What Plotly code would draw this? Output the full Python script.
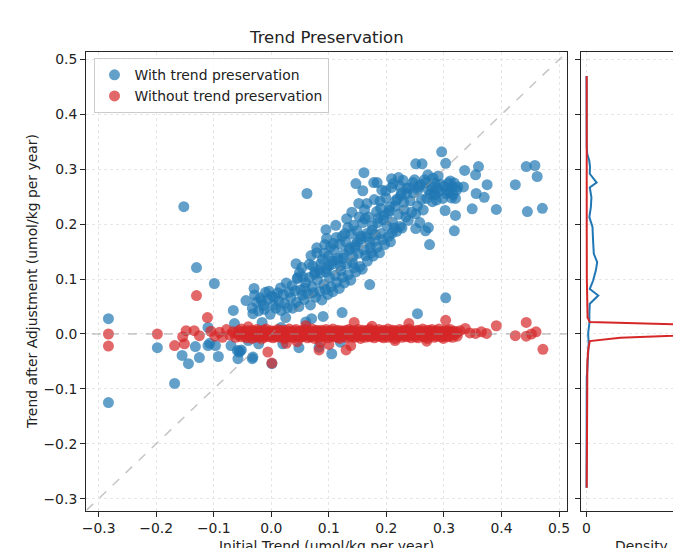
import plotly.graph_objects as go

# ---------------- data ----------------
blue_points = [
    # scattered points left of / below the main cloud
    (-0.283, 0.028), (-0.283, -0.125), (-0.198, -0.025), (-0.168, -0.090), (-0.152, 0.232),
    (-0.130, 0.121), (-0.099, 0.092), (-0.155, -0.039), (-0.144, -0.054), (-0.132, -0.023),
    (-0.125, -0.043), (-0.110, -0.021), (-0.110, 0.012), (-0.097, -0.021), (-0.092, -0.041),
    (-0.107, -0.017), (-0.070, -0.021), (-0.064, 0.019), (-0.059, -0.030), (-0.056, -0.033),
    (-0.052, -0.029), (-0.054, -0.031), (-0.058, -0.045), (-0.044, 0.061), (-0.066, 0.043),
    (-0.033, -0.045), (-0.032, -0.042), (-0.032, 0.037), (-0.030, 0.083), (-0.016, 0.021),
    (0.001, -0.054), (0.017, 0.012), (-0.040, -0.012), (-0.022, -0.018), (-0.012, 0.045),
    # main cloud
    (-0.033, 0.047), (-0.026, 0.058), (-0.029, 0.071),
    (-0.022, 0.042), (-0.017, 0.061), (-0.019, 0.066),
    (-0.013, 0.052), (-0.006, 0.063), (-0.010, 0.076),
    (-0.002, 0.036), (0.004, 0.053), (0.001, 0.069), (-0.004, 0.078),
    (0.008, 0.047), (0.013, 0.060), (0.011, 0.075), (0.006, 0.067),
    (0.017, 0.043), (0.023, 0.056), (0.021, 0.072), (0.016, 0.084),
    (0.028, 0.048), (0.034, 0.066), (0.031, 0.076), (0.026, 0.093),
    (0.037, 0.047), (0.044, 0.058), (0.041, 0.079), (0.036, 0.088), (0.046, 0.103), (0.043, 0.128),
    (0.048, 0.050), (0.054, 0.071), (0.051, 0.080), (0.045, 0.101), (0.053, 0.121), (0.049, 0.112),
    (0.057, 0.063), (0.064, 0.073), (0.060, 0.093), (0.055, 0.104), (0.066, 0.127), (0.062, 0.256), (0.058, 0.084),
    (0.068, 0.053), (0.073, 0.075), (0.071, 0.086), (0.066, 0.103), (0.076, 0.113), (0.069, 0.143), (0.072, 0.124),
    (0.077, 0.067), (0.084, 0.078), (0.080, 0.098), (0.075, 0.109), (0.086, 0.128), (0.079, 0.148), (0.079, 0.157), (0.083, 0.117),
    (0.088, 0.062), (0.094, 0.081), (0.091, 0.090), (0.085, 0.111), (0.096, 0.119), (0.089, 0.136), (0.093, 0.163), (0.095, 0.190), (0.092, 0.147),
    (0.098, 0.072), (0.104, 0.086), (0.101, 0.103), (0.095, 0.113), (0.106, 0.133), (0.099, 0.142), (0.103, 0.159), (0.096, 0.174), (0.100, 0.124),
    (0.107, 0.077), (0.114, 0.094), (0.111, 0.107), (0.105, 0.127), (0.116, 0.138), (0.109, 0.153), (0.113, 0.176), (0.112, 0.198), (0.108, 0.165),
    (0.118, 0.083), (0.124, 0.103), (0.121, 0.116), (0.115, 0.134), (0.126, 0.146), (0.119, 0.164), (0.123, 0.178), (0.123, 0.039), (0.120, 0.124),
    (0.127, 0.093), (0.134, 0.108), (0.131, 0.128), (0.125, 0.138), (0.136, 0.157), (0.129, 0.168), (0.133, 0.194), (0.131, 0.210), (0.128, 0.183),
    (0.138, 0.098), (0.144, 0.121), (0.141, 0.130), (0.135, 0.153), (0.146, 0.163), (0.139, 0.182), (0.143, 0.198), (0.140, 0.222), (0.142, 0.141),
    (0.147, 0.113), (0.154, 0.123), (0.151, 0.147), (0.145, 0.158), (0.156, 0.178), (0.149, 0.188), (0.153, 0.213), (0.152, 0.238), (0.147, 0.274), (0.150, 0.168),
    (0.158, 0.118), (0.164, 0.143), (0.161, 0.153), (0.155, 0.172), (0.166, 0.183), (0.159, 0.203), (0.163, 0.210), (0.159, 0.261), (0.161, 0.294), (0.162, 0.227),
    (0.171, 0.090), (0.167, 0.133), (0.174, 0.148), (0.171, 0.167), (0.165, 0.177), (0.176, 0.197), (0.169, 0.213), (0.166, 0.238), (0.178, 0.276), (0.172, 0.158),
    (0.177, 0.142), (0.184, 0.158), (0.181, 0.181), (0.175, 0.189), (0.186, 0.211), (0.183, 0.223), (0.184, 0.276), (0.180, 0.170), (0.179, 0.245),
    (0.188, 0.148), (0.194, 0.172), (0.191, 0.183), (0.185, 0.203), (0.196, 0.216), (0.189, 0.242), (0.192, 0.262), (0.190, 0.229),
    (0.197, 0.163), (0.204, 0.178), (0.201, 0.197), (0.195, 0.208), (0.206, 0.232), (0.199, 0.248), (0.199, 0.261), (0.209, 0.283), (0.203, 0.220),
    (0.207, 0.168), (0.214, 0.193), (0.211, 0.203), (0.205, 0.225), (0.216, 0.243), (0.209, 0.267), (0.212, 0.274), (0.210, 0.184),
    (0.218, 0.187), (0.224, 0.196), (0.221, 0.218), (0.215, 0.233), (0.226, 0.257), (0.221, 0.285), (0.219, 0.246), (0.223, 0.270),
    (0.227, 0.193), (0.234, 0.213), (0.231, 0.226), (0.225, 0.252), (0.236, 0.266), (0.229, 0.280), (0.230, 0.240),
    (0.238, 0.207), (0.244, 0.222), (0.241, 0.243), (0.235, 0.256), (0.246, 0.276), (0.240, 0.266),
    (0.251, 0.192), (0.251, 0.219), (0.254, 0.233), (0.247, 0.257), (0.256, 0.268), (0.251, 0.310), (0.254, 0.037), (0.249, 0.281),
    (0.258, 0.203), (0.264, 0.226), (0.261, 0.245), (0.255, 0.263), (0.266, 0.281), (0.262, 0.310), (0.259, 0.272),
    (0.275, 0.163), (0.268, 0.188), (0.273, 0.194), (0.270, 0.247), (0.273, 0.263), (0.268, 0.276), (0.272, 0.290), (0.276, 0.255),
    (0.280, 0.241), (0.283, 0.257), (0.278, 0.268), (0.281, 0.284), (0.284, 0.275),
    (0.287, 0.244), (0.292, 0.261), (0.285, 0.254), (0.290, 0.288), (0.294, 0.273), (0.288, 0.266),
    (0.302, 0.225), (0.298, 0.247), (0.304, 0.256), (0.300, 0.269), (0.308, 0.275), (0.303, 0.311), (0.303, 0.066), (0.306, 0.262),
    (0.313, 0.248), (0.310, 0.259), (0.315, 0.268), (0.311, 0.279), (0.316, 0.254),
    (0.318, 0.188), (0.320, 0.216), (0.320, 0.247), (0.322, 0.262), (0.318, 0.275), (0.324, 0.268),
    # sparse points to the right
    (0.296, 0.332), (0.336, 0.298), (0.334, 0.268), (0.349, 0.228), (0.355, 0.290),
    (0.356, 0.256), (0.360, 0.305), (0.370, 0.249), (0.375, 0.272), (0.391, 0.227),
    (0.424, 0.272), (0.443, 0.305), (0.445, 0.223), (0.458, 0.307), (0.462, 0.287),
    (0.471, 0.229),
    # points close to zero (partly under the red band)
    (0.025, 0.030), (0.070, 0.028), (0.090, 0.032), (0.060, 0.022), (0.048, -0.025),
    (0.083, -0.024), (0.105, -0.036), (0.020, -0.018), (0.120, -0.015),
]

red_outliers = [
    (-0.283, 0.000), (-0.283, -0.022), (-0.198, 0.000), (-0.168, -0.021), (-0.154, -0.005),
    (-0.151, -0.018), (-0.148, 0.006), (-0.134, 0.006), (-0.130, 0.070), (-0.125, -0.003),
    (-0.111, 0.030), (-0.105, 0.005), (-0.098, -0.004), (-0.090, 0.003), (-0.085, -0.006),
    (-0.078, 0.008), (-0.072, -0.002), (-0.067, 0.004), (-0.006, -0.033), (0.001, -0.053),
    (0.083, -0.029), (0.130, -0.029), (0.026, -0.017), (0.138, -0.021), (0.100, -0.019),
    (0.144, 0.021), (0.239, 0.019), (0.303, 0.025), (0.060, 0.015), (0.045, -0.014),
    (0.175, 0.014), (0.270, -0.013), (0.215, -0.012), (0.085, -0.015), (-0.040, 0.013),
    (0.328, 0.006), (0.337, 0.010), (0.345, 0.002), (0.355, 0.001), (0.365, 0.004),
    (0.374, 0.001), (0.391, 0.015), (0.424, -0.003), (0.443, 0.021), (0.443, -0.004),
    (0.452, 0.000), (0.460, 0.004), (0.472, -0.028),
]

# dense red band: x position and the y values found at it
red_band = [
    (-0.062, (0.002, -0.006)), (-0.057, (-0.002, 0.006)), (-0.052, (0.004, -0.005, 0.009)),
    (-0.047, (-0.003, 0.003)), (-0.043, (0.006, -0.007, 0.000)), (-0.038, (-0.004, 0.004)),
    (-0.034, (0.002, -0.008, 0.007)), (-0.029, (-0.001, 0.005, -0.006)), (-0.025, (0.003, -0.004, 0.008)),
    (-0.021, (-0.005, 0.001, 0.006)), (-0.017, (0.004, -0.003, -0.009)), (-0.013, (0.000, 0.007, -0.006)),
    (-0.009, (-0.002, 0.004, 0.009)), (-0.005, (0.003, -0.005, 0.001)), (-0.001, (-0.004, 0.006, 0.000)),
    (0.003, (0.002, -0.007, 0.005)), (0.007, (-0.001, 0.004, -0.005)), (0.011, (0.005, -0.003, 0.008)),
    (0.015, (-0.006, 0.001, 0.004)), (0.019, (0.003, -0.004, 0.007)), (0.023, (-0.002, 0.005, -0.008)),
    (0.027, (0.001, -0.006, 0.006)), (0.031, (-0.003, 0.003, 0.009)), (0.035, (0.004, -0.005, 0.000)),
    (0.039, (-0.001, 0.006, -0.007)), (0.043, (0.002, -0.003, 0.008)), (0.047, (-0.005, 0.004, 0.001)),
    (0.051, (0.003, -0.006, 0.006)), (0.055, (0.000, 0.005, -0.004)), (0.059, (-0.003, 0.002, 0.008)),
    (0.063, (0.004, -0.007, 0.000)), (0.067, (-0.002, 0.006, -0.005)), (0.071, (0.001, -0.004, 0.009)),
    (0.075, (0.005, -0.002, -0.008)), (0.079, (-0.004, 0.003, 0.007)), (0.083, (0.002, -0.006, 0.005)),
    (0.087, (-0.001, 0.007, -0.003)), (0.091, (0.004, -0.005, 0.000)), (0.095, (-0.003, 0.002, 0.008)),
    (0.099, (0.001, -0.007, 0.005)), (0.103, (-0.002, 0.006, -0.004)), (0.107, (0.003, -0.003, 0.009)),
    (0.111, (-0.005, 0.004, 0.000)), (0.115, (0.002, -0.006, 0.007)), (0.119, (0.000, 0.005, -0.008)),
    (0.123, (-0.003, 0.003, 0.006)), (0.127, (0.004, -0.004, 0.001)), (0.131, (-0.001, 0.007, -0.006)),
    (0.135, (0.002, -0.002, 0.008)), (0.139, (-0.004, 0.005, 0.000)), (0.143, (0.003, -0.006, 0.006)),
    (0.147, (0.000, 0.004, -0.005)), (0.151, (-0.002, 0.008, 0.002)), (0.155, (0.004, -0.004, -0.008)),
    (0.159, (-0.003, 0.002, 0.007)), (0.163, (0.001, -0.006, 0.005)), (0.167, (-0.001, 0.006, -0.003)),
    (0.171, (0.003, -0.005, 0.009)), (0.175, (-0.004, 0.003, 0.000)), (0.179, (0.002, -0.007, 0.006)),
    (0.183, (0.000, 0.005, -0.004)), (0.187, (-0.003, 0.002, 0.008)), (0.191, (0.004, -0.005, 0.001)),
    (0.195, (-0.002, 0.007, -0.007)), (0.199, (0.001, -0.003, 0.005)), (0.203, (0.003, -0.006, 0.009)),
    (0.207, (-0.004, 0.004, 0.000)), (0.211, (0.002, -0.002, 0.007)), (0.215, (-0.001, 0.006, -0.008)),
    (0.219, (0.004, -0.004, 0.002)), (0.223, (-0.003, 0.003, 0.008)), (0.227, (0.000, -0.006, 0.005)),
    (0.231, (0.003, 0.007, -0.003)), (0.235, (-0.005, 0.001, 0.006)), (0.239, (0.002, -0.004, 0.009)),
    (0.243, (-0.001, 0.005, -0.007)), (0.247, (0.004, -0.003, 0.000)), (0.251, (-0.002, 0.006, -0.005)),
    (0.255, (0.001, -0.007, 0.007)), (0.259, (0.003, -0.002, 0.004)), (0.263, (-0.004, 0.005, 0.009)),
    (0.267, (0.002, -0.005, 0.000)), (0.271, (-0.001, 0.007, -0.008)), (0.275, (0.004, -0.003, 0.006)),
    (0.279, (-0.003, 0.002, 0.008)), (0.283, (0.001, -0.006, 0.005)), (0.287, (0.003, 0.006, -0.004)),
    (0.291, (-0.002, 0.001, 0.009)), (0.295, (0.004, -0.005, 0.002)), (0.299, (-0.004, 0.005, -0.008)),
    (0.303, (0.002, -0.002, 0.007)), (0.307, (0.000, 0.006, -0.005)), (0.311, (-0.003, 0.003, 0.008)),
    (0.315, (0.002, -0.006, 0.004)), (0.319, (-0.001, 0.005)), (0.323, (0.003, -0.004)),
]

blue_x = [p[0] for p in blue_points]
blue_y = [p[1] for p in blue_points]
red_x = [p[0] for p in red_outliers] + [x for x, ys in red_band for _ in ys]
red_y = [p[1] for p in red_outliers] + [y for _, ys in red_band for y in ys]

# marginal densities (y position, density value)
blue_dens_y = [-0.28, -0.10, -0.079, -0.066, -0.042, -0.017, 0.001, 0.019, 0.037, 0.055,
               0.070, 0.082, 0.097, 0.116, 0.131, 0.146, 0.171, 0.195, 0.213, 0.231,
               0.249, 0.267, 0.276, 0.292, 0.305, 0.316, 0.328, 0.34, 0.47]
blue_dens = [0, 0, 0.2, 0.7, 1.5, 2.0, 1.5, 2.6, 2.6, 3.0,
             10.8, 3.0, 6.0, 8.6, 9.8, 6.7, 6.0, 5.5, 2.6, 4.0,
             4.5, 3.0, 9.3, 3.0, 3.2, 2.5, 0.7, 0.2, 0]

red_dens_y = [-0.28, -0.20, -0.10, -0.05, -0.03, -0.020, -0.013, -0.007, -0.002, 0.006,
              0.016, 0.022, 0.030, 0.05, 0.10, 0.20, 0.30, 0.47]
red_dens = [0.2, 0.2, 0.3, 0.8, 1.5, 2.0, 3.0, 31, 100, 200,
            110, 3.0, 1.0, 0.6, 0.3, 0.2, 0.2, 0.2]

x_ticks = [-0.3, -0.2, -0.1, 0.0, 0.1, 0.2, 0.3, 0.4, 0.5]
y_ticks = [-0.3, -0.2, -0.1, 0.0, 0.1, 0.2, 0.3, 0.4, 0.5]
lims = [-0.322, 0.5133]
ref_line = [-1.0, 1.0]

# ---------------- figure ----------------
W, H = 673, 548
BLUE = "#1f77b4"
RED = "#d62728"
FONT = "DejaVu Sans"
TXT = "#222222"
AX = "#262626"
MS = 11


def px_x(p):
    return p / W


def px_y(p):
    return 1 - p / H


fig = go.Figure()
fig.add_trace(go.Scatter(x=blue_x, y=blue_y, mode="markers", name="With trend preservation",
                         marker=dict(color=BLUE, size=MS, opacity=0.7, line=dict(width=0)),
                         xaxis="x", yaxis="y"))
fig.add_trace(go.Scatter(x=red_x, y=red_y, mode="markers", name="Without trend preservation",
                         marker=dict(color=RED, size=MS, opacity=0.7, line=dict(width=0)),
                         xaxis="x", yaxis="y"))
fig.add_trace(go.Scatter(x=ref_line, y=ref_line, mode="lines", showlegend=False, hoverinfo="skip",
                         line=dict(color="rgba(150,150,150,0.55)", width=1.5, dash="dash"),
                         xaxis="x", yaxis="y"))
fig.add_trace(go.Scatter(x=ref_line, y=[0, 0], mode="lines", showlegend=False, hoverinfo="skip",
                         line=dict(color="rgba(150,150,150,0.55)", width=1.5, dash="dash"),
                         xaxis="x", yaxis="y"))
fig.add_trace(go.Scatter(x=blue_dens, y=blue_dens_y, mode="lines", showlegend=False,
                         line=dict(color=BLUE, width=2), xaxis="x2", yaxis="y2"))
fig.add_trace(go.Scatter(x=red_dens, y=red_dens_y, mode="lines", showlegend=False,
                         line=dict(color=RED, width=2), xaxis="x2", yaxis="y2"))

ydom = [px_y(510.7), px_y(52.3)]
common_axis = dict(showline=True, linecolor=AX, linewidth=1, ticks="outside", ticklen=5,
                   tickcolor=AX, tickwidth=1, zeroline=False, showgrid=True,
                   gridcolor="#e6e6e6", gridwidth=0.8, griddash="dot",
                   tickfont=dict(family=FONT, size=13.9, color=TXT), automargin=False)

fig.update_layout(
    width=W, height=H,
    margin=dict(l=0, r=0, t=0, b=0),
    paper_bgcolor="white", plot_bgcolor="white",
    font=dict(family=FONT, size=13.9, color=TXT),
    xaxis=dict(domain=[px_x(86), px_x(566.7)], range=lims, anchor="y",
               tickvals=x_ticks, ticktext=[f"{v:.1f}".replace("-", "\u2212") for v in x_ticks],
               mirror=True, **common_axis),
    yaxis=dict(domain=ydom, range=lims, anchor="x",
               tickvals=y_ticks, ticktext=[f"{v:.1f}".replace("-", "\u2212") for v in y_ticks],
               mirror=True, **common_axis),
    xaxis2=dict(domain=[px_x(581), 1.0], range=[-5.05, 79.35], anchor="y2",
                tickvals=[0], ticktext=["0"], mirror=True, **common_axis),
    yaxis2=dict(domain=ydom, matches="y", anchor="x2", tickvals=y_ticks,
                showticklabels=False, mirror=False, **common_axis),
    legend=dict(x=px_x(93.5), y=px_y(58.3), xanchor="left", yanchor="top",
                bgcolor="rgba(255,255,255,0.8)", bordercolor="#cccccc", borderwidth=1,
                font=dict(family=FONT, size=13.9, color=TXT), tracegroupgap=0),
    showlegend=True,
    annotations=[
        dict(text="Trend Preservation", x=px_x(326.5), y=px_y(37), xref="paper", yref="paper",
             xanchor="center", yanchor="middle", showarrow=False,
             font=dict(family=FONT, size=16.5, color=TXT)),
        dict(text="Trend after Adjustment (umol/kg per year)", x=px_x(31.5), y=px_y(281.5),
             xref="paper", yref="paper", xanchor="center", yanchor="middle", textangle=-90,
             showarrow=False, font=dict(family=FONT, size=13.9, color=TXT)),
        dict(text="Initial Trend (umol/kg per year)", x=px_x(326.5), y=px_y(546), xref="paper",
             yref="paper", xanchor="center", yanchor="middle", showarrow=False,
             font=dict(family=FONT, size=13.9, color=TXT)),
        dict(text="Density", x=px_x(641), y=px_y(546), xref="paper", yref="paper",
             xanchor="center", yanchor="middle", showarrow=False,
             font=dict(family=FONT, size=13.9, color=TXT)),
    ],
)

fig.write_html("out.html", config={"displayModeBar": False},
               post_script="document.body.style.margin='0';document.body.style.overflow='hidden';")
